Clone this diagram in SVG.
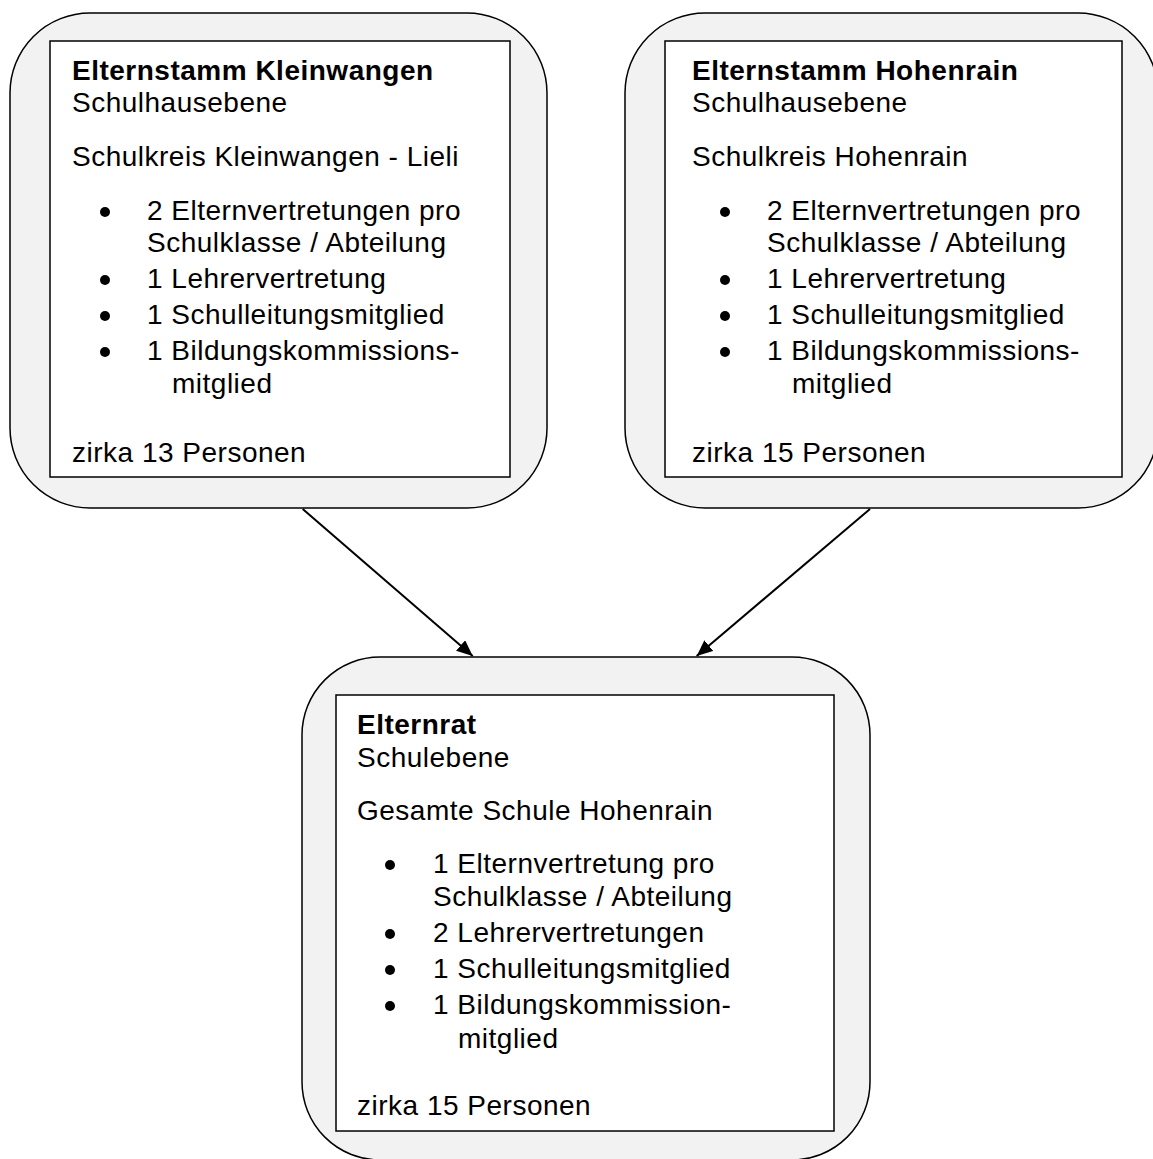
<svg xmlns="http://www.w3.org/2000/svg" width="1153" height="1159" viewBox="0 0 1153 1159">
<defs>
<style>
.outer{fill:#f2f2f2;stroke:#000;stroke-width:1.5}
.inner{fill:#fff;stroke:#000;stroke-width:1.5}
text{font-family:"Liberation Sans",Arial,sans-serif;font-size:28px;letter-spacing:0.5px;fill:#000}
.b{font-weight:bold}
.dot{fill:#000}
.conn{stroke:#000;stroke-width:2;fill:none}
</style>
<marker id="arr" markerUnits="userSpaceOnUse" markerWidth="18" markerHeight="16" refX="16" refY="7" orient="auto">
<path d="M0,0 L16,7 L0,14 Z" fill="#000"/>
</marker>
</defs>
<rect width="1153" height="1159" fill="#fff"/>
<g id="connectors">
<line class="conn" x1="302.7" y1="509" x2="472.7" y2="656" marker-end="url(#arr)"/>
<line class="conn" x1="870" y1="509" x2="696.7" y2="656" marker-end="url(#arr)"/>
</g>
<g id="node-kleinwangen">
<rect class="outer" x="10" y="13" width="537" height="495" rx="80" ry="80"/>
<rect class="inner" x="50" y="41" width="460" height="436"/>
<text class="b" x="72" y="80">Elternstamm Kleinwangen</text>
<text x="72" y="112">Schulhausebene</text>
<text x="72" y="166">Schulkreis Kleinwangen - Lieli</text>
<circle class="dot" cx="105" cy="212" r="5"/>
<text x="147" y="220">2 Elternvertretungen pro</text>
<text x="147" y="252">Schulklasse / Abteilung</text>
<circle class="dot" cx="105" cy="280" r="5"/>
<text x="147" y="288">1 Lehrervertretung</text>
<circle class="dot" cx="105" cy="316" r="5"/>
<text x="147" y="324">1 Schulleitungsmitglied</text>
<circle class="dot" cx="105" cy="352" r="5"/>
<text x="147" y="360">1 Bildungskommissions-</text>
<text x="172" y="393">mitglied</text>
<text x="72" y="462">zirka 13 Personen</text>
</g>
<g id="node-hohenrain">
<rect class="outer" x="625" y="13" width="533" height="495" rx="80" ry="80"/>
<rect class="inner" x="665" y="41" width="457" height="436"/>
<text class="b" x="692" y="80">Elternstamm Hohenrain</text>
<text x="692" y="112">Schulhausebene</text>
<text x="692" y="166">Schulkreis Hohenrain</text>
<circle class="dot" cx="725" cy="212" r="5"/>
<text x="767" y="220">2 Elternvertretungen pro</text>
<text x="767" y="252">Schulklasse / Abteilung</text>
<circle class="dot" cx="725" cy="280" r="5"/>
<text x="767" y="288">1 Lehrervertretung</text>
<circle class="dot" cx="725" cy="316" r="5"/>
<text x="767" y="324">1 Schulleitungsmitglied</text>
<circle class="dot" cx="725" cy="352" r="5"/>
<text x="767" y="360">1 Bildungskommissions-</text>
<text x="792" y="393">mitglied</text>
<text x="692" y="462">zirka 15 Personen</text>
</g>
<g id="node-elternrat">
<rect class="outer" x="302" y="657" width="568" height="503" rx="78" ry="78"/>
<rect class="inner" x="336" y="695" width="498" height="436"/>
<text class="b" x="357" y="734">Elternrat</text>
<text x="357" y="767">Schulebene</text>
<text x="357" y="820">Gesamte Schule Hohenrain</text>
<circle class="dot" cx="390" cy="865" r="5"/>
<text x="433" y="873">1 Elternvertretung pro</text>
<text x="433" y="906">Schulklasse / Abteilung</text>
<circle class="dot" cx="390" cy="934" r="5"/>
<text x="433" y="942">2 Lehrervertretungen</text>
<circle class="dot" cx="390" cy="970" r="5"/>
<text x="433" y="978">1 Schulleitungsmitglied</text>
<circle class="dot" cx="390" cy="1006" r="5"/>
<text x="433" y="1014">1 Bildungskommission-</text>
<text x="458" y="1048">mitglied</text>
<text x="357" y="1115">zirka 15 Personen</text>
</g>
</svg>
